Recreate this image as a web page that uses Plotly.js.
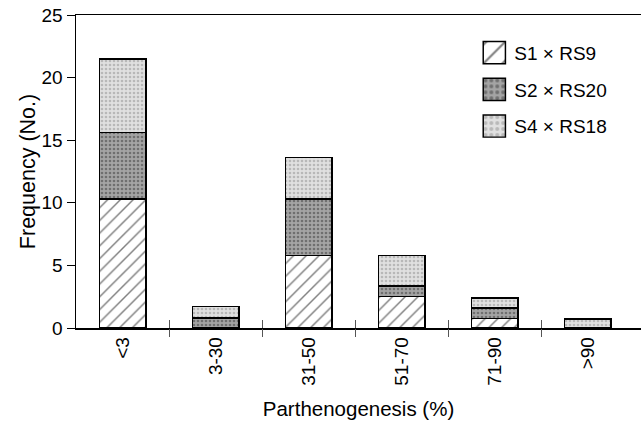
<!DOCTYPE html>
<html>
<head>
<meta charset="utf-8">
<script src="https://cdn.plot.ly/plotly-3.0.1.min.js"></script>
<style>html,body{margin:0;padding:0;background:#fff;}#chart{width:641px;height:424px;}</style>
</head>
<body>
<div id="chart"></div>
<script>
const categories = ['<3', '3-30', '31-50', '51-70', '71-90', '>90'];
const seriesNames = ['S1 \u00d7 RS9', 'S2 \u00d7 RS20', 'S4 \u00d7 RS18'];
const s1 = [10.3, 0, 5.8, 2.5, 0.75, 0];
const s2 = [5.3, 0.8, 4.5, 0.85, 0.85, 0];
const s4 = [5.9, 0.9, 3.3, 2.45, 0.8, 0.7];
const boundaries = [0.5, 1.5, 2.5, 3.5, 4.5];
const yTicks = [0, 5, 10, 15, 20, 25];

const FONT = 'Liberation Sans, Arial, Helvetica, sans-serif';
const line = {color: '#000', width: 1.5};

function bar(y, name, pattern, color, grp) {
  return {
    type: 'bar', x: categories, y: y, name: name, legendgroup: grp,
    marker: {color: color, line: line, pattern: pattern},
    width: 0.5
  };
}

const traces = [
  bar(s1, seriesNames[0], {shape: '/', fgcolor: '#000', bgcolor: '#fff', size: 9, solidity: 0.16, fillmode: 'overlay'}, '#fff', 'a'),
  bar(s2, seriesNames[1], {shape: '.', fgcolor: '#3a3a3a', bgcolor: '#a4a4a4', size: 4, solidity: 0.35, fillmode: 'overlay'}, '#a4a4a4', 'b'),
  bar(s4, seriesNames[2], {shape: '.', fgcolor: '#909090', bgcolor: '#e0e0e0', size: 4, solidity: 0.35, fillmode: 'overlay'}, '#e0e0e0', 'c'),
  {type: 'scatter', x: [0], y: [0], xaxis: 'x2', yaxis: 'y', mode: 'none', showlegend: false, hoverinfo: 'skip'},
  {type: 'scatter', x: [0], y: [0], xaxis: 'x3', yaxis: 'y', mode: 'none', showlegend: false, hoverinfo: 'skip'}
];

const xr = [-0.5, 5.57];
const layout = {
  width: 641, height: 424,
  margin: {l: 76, r: 0, t: 15, b: 96},
  paper_bgcolor: '#fff', plot_bgcolor: '#fff',
  font: {family: FONT, size: 19, color: '#000'},
  barmode: 'stack',
  showlegend: true,
  legend: {x: 0.705, y: 0.94, xanchor: 'left', yanchor: 'top', traceorder: 'grouped', tracegroupgap: 9,
           font: {family: FONT, size: 19, color: '#000'}, bgcolor: 'rgba(0,0,0,0)'},
  xaxis: {
    type: 'category', range: xr, showgrid: false, zeroline: false,
    showline: true, linecolor: '#000', linewidth: 1.5, mirror: true,
    ticks: '', tickangle: -90, tickfont: {family: FONT, size: 19},
    title: {text: 'Parthenogenesis (%)', font: {family: FONT, size: 20.5}, standoff: 17},
    automargin: true, fixedrange: true
  },
  xaxis2: {
    overlaying: 'x', type: 'linear', range: xr, tickmode: 'array', tickvals: boundaries,
    showticklabels: false, ticks: 'outside', ticklen: 8, tickcolor: '#555', tickwidth: 1,
    showgrid: false, zeroline: false, showline: false, side: 'bottom', anchor: 'y'
  },
  xaxis3: {
    overlaying: 'x', type: 'linear', range: xr, tickmode: 'array', tickvals: boundaries,
    showticklabels: false, ticks: 'inside', ticklen: 8, tickcolor: '#555', tickwidth: 1,
    showgrid: false, zeroline: false, showline: false, side: 'bottom', anchor: 'y'
  },
  yaxis: {
    range: [0, 25], tickmode: 'array', tickvals: yTicks, ticks: 'outside', ticklen: 8,
    tickcolor: '#000', tickwidth: 1, showgrid: false, zeroline: false,
    showline: true, linecolor: '#000', linewidth: 1.5,
    tickfont: {family: FONT, size: 19},
    title: {text: 'Frequency (No.)', font: {family: FONT, size: 21.5}, standoff: 0},
    automargin: true, fixedrange: true
  }
};

Plotly.newPlot('chart', traces, layout, {staticPlot: true, displayModeBar: false}).then(function (gd) {
  gd.querySelectorAll('.legend .legendpoints path').forEach(function (p) {
    const t = p.getAttribute('transform') || '';
    p.setAttribute('transform', t + ' scale(1.85)');
    p.style.strokeWidth = '0.8px';
  });
});
</script>
</body>
</html>
